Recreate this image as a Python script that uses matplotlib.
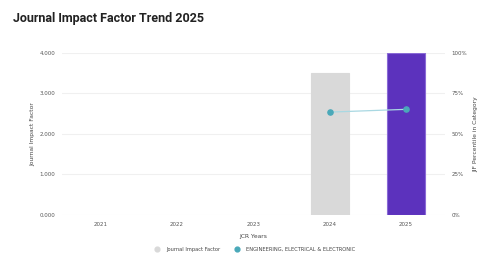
import numpy as np
import matplotlib.pyplot as plt

years = [2021, 2022, 2023, 2024, 2025]
jif = [np.nan, np.nan, np.nan, 3.5, 4.0]
pct_years = [2024, 2025]
percentile = [63.5, 65.2]

fig = plt.figure(figsize=(4.92, 2.65), dpi=100)
ax = fig.add_axes([0.126, 0.189, 0.778, 0.611])

bar_cols = ['#d9d9d9'] * 4 + ['#5c32bd']
edge_cols = ['#d9d9d9'] * 4 + ['#8a6ad6']
ax.bar(years, jif, width=0.5, color=bar_cols, edgecolor=edge_cols, linewidth=0.8, zorder=2)
ax.set_xlim(2020.49, 2025.51)
ax.set_ylim(0, 4)
ax.set_yticks([0, 1, 2, 3, 4])
ax.set_yticklabels(['0.000', '1.000', '2.000', '3.000', '4.000'])
ax.set_xticks(years)
ax.set_xticklabels([str(y) for y in years])
ax.grid(axis='y', color='#f0f0f0', linewidth=0.8, zorder=0)
for s in ax.spines.values():
    s.set_visible(False)
ax.tick_params(length=0, labelsize=4, labelcolor='#555555', pad=5)
ax.set_ylabel('Journal Impact Factor', fontsize=4.3, color='#444444')
ax.yaxis.set_label_coords(-0.07, 0.5)
ax.set_xlabel('JCR Years', fontsize=4.3, color='#444444', labelpad=5)

ax2 = ax.twinx()
ax2.set_ylim(0, 100)
ax2.set_yticks([0, 25, 50, 75, 100])
ax2.set_yticklabels(['0%', '25%', '50%', '75%', '100%'])
for s in ax2.spines.values():
    s.set_visible(False)
ax2.tick_params(length=0, labelsize=4, labelcolor='#555555', pad=5)
ax2.set_ylabel('JIF Percentile in Category', fontsize=4.3, color='#444444')
ax2.yaxis.set_label_coords(1.075, 0.5)
ax2.plot(pct_years, percentile, color='#a9d8e2', linewidth=0.9, zorder=3)
ax2.scatter(pct_years, percentile, s=14, color='#4aa9b9', zorder=4)

fig.text(0.026, 0.955, 'Journal Impact Factor Trend 2025', fontsize=9, fontweight='semibold',
         family='Roboto', color='#222222', va='top')

h1 = ax.scatter([], [], s=12, color='#d9d9d9', label='Journal Impact Factor')
h2 = ax.scatter([], [], s=12, color='#4aa9b9', label='ENGINEERING, ELECTRICAL & ELECTRONIC')
fig.legend(handles=[h1, h2], loc='center', bbox_to_anchor=(0.516, 0.06), ncol=2, frameon=False,
           fontsize=3.7, handletextpad=0.8, columnspacing=2.2, labelcolor='#444444')

fig.savefig('out.png', dpi=100)
